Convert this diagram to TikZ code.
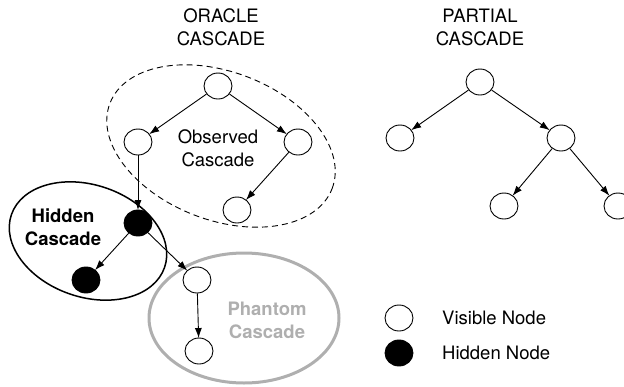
\documentclass[tikz,border=0pt]{standalone}
\usepackage{fontspec}
\setmainfont{TeX Gyre Heros}
\usetikzlibrary{shapes.geometric,arrows.meta}
\definecolor{phgray}{RGB}{175,175,175}
\tikzset{
  vnode/.style={ellipse,draw=black,line width=0.9pt,fill=white,minimum width=28pt,minimum height=26pt,inner sep=0pt},
  hnode/.style={vnode,fill=black},
  arr/.style={-{Latex[length=10pt,width=7pt]},line width=0.9pt,shorten >=-0.5pt},
  lbl/.style={font=\fontsize{18.5pt}{23pt}\selectfont,align=center,inner sep=0pt},
}
\begin{document}
\begin{tikzpicture}[x=1pt,y=-1pt]
\useasboundingbox (0,0) rectangle (624,386);
\clip (0,0) rectangle (624,386);
% region outlines
\draw[dashed,line width=0.9pt,dash pattern=on 6pt off 4pt,rotate around={-21:(221,146)}] (221,146) ellipse [x radius=119pt,y radius=74pt];
\draw[line width=1.5pt,rotate around={-19:(88,241)}] (88,241) ellipse [x radius=81pt,y radius=56pt];
\draw[phgray,line width=3pt] (244,318) ellipse [x radius=95pt,y radius=65pt];
% titles
\node[lbl] (t1) at (221,27) {ORACLE\\CASCADE};
\node[lbl] (t2) at (480,27) {PARTIAL\\CASCADE};
\node[lbl] (obs) at (218,148) {Observed\\Cascade};
\node[lbl,font=\fontsize{18.5pt}{23pt}\selectfont\bfseries] (hid) at (63,227) {Hidden\\Cascade};
\node[lbl,text=phgray,font=\fontsize{18.5pt}{23pt}\selectfont\bfseries] (pha) at (267,320) {Phantom\\Cascade};
% oracle cascade nodes
\node[vnode] (o1) at (218,86) {};
\node[vnode] (o2) at (138,142) {};
\node[vnode] (o3) at (298,142) {};
\node[vnode] (o4) at (237,210) {};
\node[hnode] (h1) at (138,223) {};
\node[hnode] (h2) at (86,280) {};
\node[vnode] (p1) at (197,280) {};
\node[vnode] (p2) at (199,351) {};
\draw[arr] (o1) -- (o2);
\draw[arr] (o1) -- (o3);
\draw[arr] (o2) -- (h1);
\draw[arr] (o3) -- (o4);
\draw[arr] (h1) -- (h2);
\draw[arr] (h1) -- (p1);
\draw[arr] (p1) -- (p2);
% partial cascade
\node[vnode] (q1) at (480,82) {};
\node[vnode] (q2) at (400,138) {};
\node[vnode] (q3) at (561,138) {};
\node[vnode] (q4) at (504,206) {};
\node[vnode] (q5) at (618,206) {};
\draw[arr] (q1) -- (q2);
\draw[arr] (q1) -- (q3);
\draw[arr] (q3) -- (q4);
\draw[arr] (q3) -- (q5);
% legend
\node[vnode] (lv) at (399,318) {};
\node[hnode] (lh) at (399,353) {};
\node[lbl,anchor=west] (lvt) at (442,318) {Visible Node};
\node[lbl,anchor=west] (lht) at (442,353) {Hidden Node};
\end{tikzpicture}
\end{document}
